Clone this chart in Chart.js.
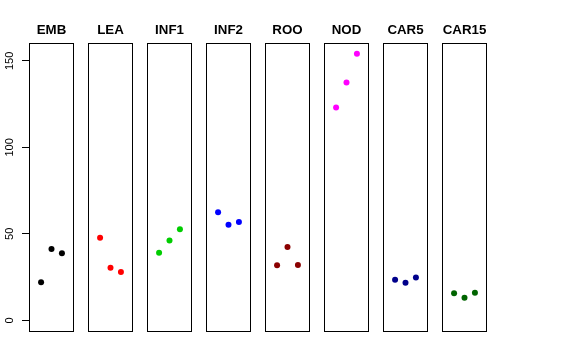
<!DOCTYPE html>
<html>
<head>
<meta charset="utf-8">
<script src="https://cdn.jsdelivr.net/npm/chart.js@4/dist/chart.umd.min.js"></script>
<style>
  html, body { margin: 0; padding: 0; background: #ffffff; }
  #wrap { position: relative; width: 576px; height: 360px; overflow: hidden; background: #ffffff; }
  .holder { position: absolute; top: 0; }
</style>
</head>
<body>
<div id="wrap"></div>
<script>
// ---- data ----
const categories = ["EMB", "LEA", "INF1", "INF2", "ROO", "NOD", "CAR5", "CAR15"];
const replicateX = [1, 2, 3];
const valuesEMB   = [22.0, 41.2, 38.8];
const valuesLEA   = [47.8, 30.4, 27.9];
const valuesINF1  = [39.1, 46.1, 52.6];
const valuesINF2  = [62.5, 55.3, 56.9];
const valuesROO   = [31.8, 42.4, 32.0];
const valuesNOD   = [123.0, 137.5, 154.2];
const valuesCAR5  = [23.5, 21.8, 24.7];
const valuesCAR15 = [15.6, 13.1, 16.0];
const seriesValues = [valuesEMB, valuesLEA, valuesINF1, valuesINF2, valuesROO, valuesNOD, valuesCAR5, valuesCAR15];
const seriesColors = ["#000000", "#FF0000", "#00CD00", "#0000FF", "#8B0000", "#FF00FF", "#00008B", "#006400"];
const yTickValues = [0, 50, 100, 150];

// ---- layout ----
const FONT = "'Liberation Sans', Arial, Helvetica, sans-serif";
const boxLefts = [29, 88, 147, 206, 265, 324, 383, 442];
const boxWidth = 45;
const boxTop = 43, boxBottom = 331;
const H = 360;
const sideGap = 7;
const axisW = boxLefts[0];
const yMin = -6.17, yMax = 160.37;
const xMin = -0.16, xMax = 4.16;

const boxPlugin = {
  id: 'boxFrame',
  afterDraw(chart) {
    const a = chart.chartArea, ctx = chart.ctx;
    ctx.save();
    ctx.strokeStyle = '#000000';
    ctx.lineWidth = 1;
    const l = Math.round(a.left) + 0.5, r = Math.round(a.right) - 0.5;
    const t = Math.round(a.top) + 0.5, b = Math.round(a.bottom) + 0.5;
    ctx.strokeRect(l, t, r - l, b - t);
    ctx.restore();
  }
};

const wrap = document.getElementById('wrap');
categories.forEach((cat, i) => {
  const first = i === 0;
  const canvasLeft = first ? 0 : boxLefts[i] - sideGap;
  const pad = first ? 0 : sideGap;
  const canvasWidth = first ? (axisW * 2 + boxWidth) : (boxWidth + 2 * sideGap);
  const holder = document.createElement('div');
  holder.className = 'holder';
  holder.style.left = canvasLeft + 'px';
  holder.style.width = canvasWidth + 'px';
  holder.style.height = H + 'px';
  const cv = document.createElement('canvas');
  cv.width = canvasWidth; cv.height = H;
  cv.style.width = canvasWidth + 'px';
  cv.style.height = H + 'px';
  holder.appendChild(cv);
  wrap.appendChild(holder);

  const pts = replicateX.map((x, k) => ({ x: x, y: seriesValues[i][k] }));
  const scales = {
    x: { type: 'linear', min: xMin, max: xMax, display: false },
    y: {
      type: 'linear', min: yMin, max: yMax,
      display: first,
      position: 'left',
      afterBuildTicks: (s) => { s.ticks = yTickValues.map(v => ({ value: v })); },
      border: { display: false },
      grid: { display: true, drawOnChartArea: false, drawTicks: true, tickLength: 7, color: '#000000', lineWidth: 1 },
      ticks: {
        minRotation: 90, maxRotation: 90, crossAlign: 'center', padding: 2.5,
        color: '#000000',
        font: { family: FONT, size: 11 }
      }
    }
  };
  if (first) {
    scales.y.afterFit = (s) => { s.width = axisW; };
    scales.yR = {
      type: 'linear', min: yMin, max: yMax, position: 'right', display: true,
      grid: { display: false }, border: { display: false },
      ticks: { display: false },
      afterFit: (s) => { s.width = axisW; }
    };
  }
  new Chart(cv, {
    type: 'scatter',
    data: {
      datasets: [{
        label: cat,
        data: pts,
        backgroundColor: seriesColors[i],
        borderColor: seriesColors[i],
        borderWidth: 0,
        pointRadius: 3,
        pointHoverRadius: 3,
        pointStyle: 'circle'
      }]
    },
    options: {
      responsive: false,
      animation: false,
      events: [],
      layout: { padding: { left: pad, right: pad, top: 0, bottom: H - boxBottom } },
      plugins: {
        legend: { display: false },
        tooltip: { enabled: false },
        title: {
          display: true,
          text: cat,
          color: '#000000',
          font: { family: FONT, size: 13.3, weight: 'bold' },
          padding: { top: 22, bottom: boxTop - 22 - 13.3 * 1.2 }
        }
      },
      scales: scales
    },
    plugins: [boxPlugin]
  });
});
</script>
</body>
</html>
